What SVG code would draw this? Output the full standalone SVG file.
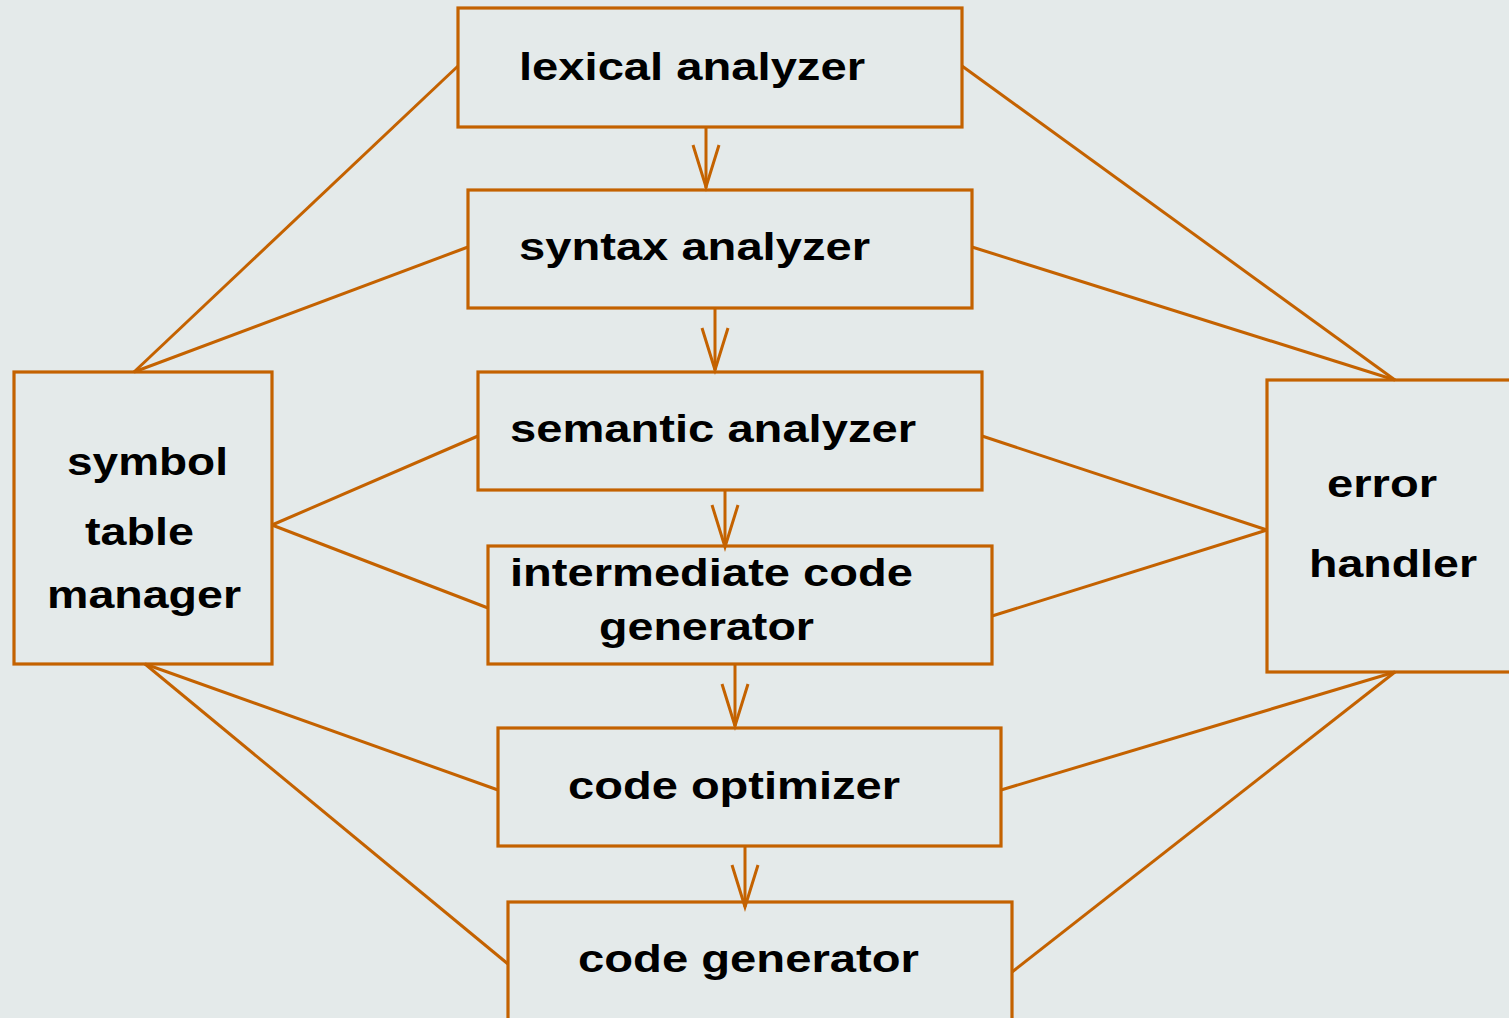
<svg xmlns="http://www.w3.org/2000/svg" width="1509" height="1018" viewBox="0 0 1509 1018">
<style>
.box{fill:none;stroke:#c46200;stroke-width:3.2}
.ln{fill:none;stroke:#c46200;stroke-width:3}
.t{font-family:"Liberation Sans",Arial,sans-serif;font-weight:bold;font-size:39px;fill:#000}
</style>
<rect width="1509" height="1018" fill="#e4eaea"/>
<g id="connectors">
<line class="ln" x1="458" y1="66" x2="134" y2="372"/>
<line class="ln" x1="468" y1="247" x2="134" y2="372"/>
<line class="ln" x1="478" y1="436" x2="272" y2="525"/>
<line class="ln" x1="488" y1="608" x2="272" y2="525"/>
<line class="ln" x1="145" y1="664" x2="498" y2="790"/>
<line class="ln" x1="145" y1="664" x2="508" y2="964"/>
<line class="ln" x1="962" y1="66" x2="1395" y2="380"/>
<line class="ln" x1="972" y1="247" x2="1395" y2="380"/>
<line class="ln" x1="982" y1="436" x2="1267" y2="530"/>
<line class="ln" x1="992" y1="616" x2="1267" y2="530"/>
<line class="ln" x1="1001" y1="790" x2="1395" y2="672"/>
<line class="ln" x1="1012" y1="972" x2="1395" y2="672"/>
<line class="ln" x1="706" y1="127" x2="706" y2="188"/>
<path class="ln" d="M693,145 L706,187 L719,145"/>
<line class="ln" x1="715" y1="308" x2="715" y2="370"/>
<path class="ln" d="M702,328 L715,370 L728,328"/>
<line class="ln" x1="725" y1="490" x2="725" y2="546"/>
<path class="ln" d="M712,505 L725,547 L738,505"/>
<line class="ln" x1="735" y1="664" x2="735" y2="726"/>
<path class="ln" d="M722,684 L735,726 L748,684"/>
<line class="ln" x1="745" y1="846" x2="745" y2="907"/>
<path class="ln" d="M732,865 L745,907 L758,865"/>
</g>
<g id="lexical">
<rect class="box" x="458" y="8" width="504" height="119"/>
<text class="t" x="519" y="80" textLength="346" lengthAdjust="spacingAndGlyphs">lexical analyzer</text>
</g>
<g id="syntax">
<rect class="box" x="468" y="190" width="504" height="118"/>
<text class="t" x="519" y="260" textLength="351" lengthAdjust="spacingAndGlyphs">syntax analyzer</text>
</g>
<g id="semantic">
<rect class="box" x="478" y="372" width="504" height="118"/>
<text class="t" x="510" y="442" textLength="406" lengthAdjust="spacingAndGlyphs">semantic analyzer</text>
</g>
<g id="intermediate">
<rect class="box" x="488" y="546" width="504" height="118"/>
<text class="t" x="510" y="586" textLength="403" lengthAdjust="spacingAndGlyphs">intermediate code</text>
<text class="t" x="599" y="640" textLength="215" lengthAdjust="spacingAndGlyphs">generator</text>
</g>
<g id="optimizer">
<rect class="box" x="498" y="728" width="503" height="118"/>
<text class="t" x="568" y="799" textLength="332" lengthAdjust="spacingAndGlyphs">code optimizer</text>
</g>
<g id="codegen">
<rect class="box" x="508" y="902" width="504" height="130"/>
<text class="t" x="578" y="972" textLength="341" lengthAdjust="spacingAndGlyphs">code generator</text>
</g>
<g id="symbol">
<rect class="box" x="14" y="372" width="258" height="292"/>
<text class="t" x="67" y="475" textLength="161" lengthAdjust="spacingAndGlyphs">symbol</text>
<text class="t" x="85" y="545" textLength="109" lengthAdjust="spacingAndGlyphs">table</text>
<text class="t" x="47" y="608" textLength="194" lengthAdjust="spacingAndGlyphs">manager</text>
</g>
<g id="error">
<rect class="box" x="1267" y="380" width="260" height="292"/>
<text class="t" x="1327" y="497" textLength="110" lengthAdjust="spacingAndGlyphs">error</text>
<text class="t" x="1309" y="577" textLength="168" lengthAdjust="spacingAndGlyphs">handler</text>
</g>
</svg>
